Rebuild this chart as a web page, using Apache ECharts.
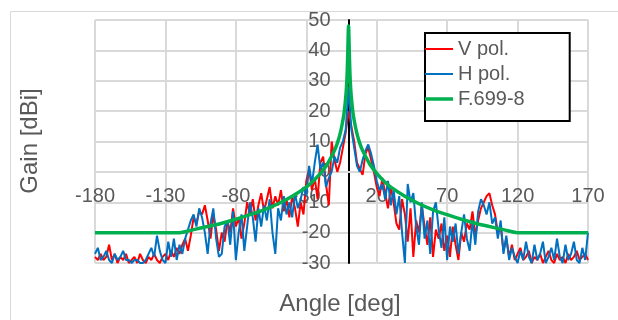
<!DOCTYPE html>
<html lang="en">

<head>
    <meta charset="UTF-8">
    <title>Gain pattern</title>
    <style>
        body {
            margin: 0;
            background: #fff;
        }

        #main {
            width: 618px;
            height: 320px;
        }
    </style>
    <script src="https://cdnjs.cloudflare.com/ajax/libs/echarts/6.0.0/echarts.min.js"></script>
</head>

<body>
    <div id="main"></div>
    <script>
        // measured angles: -180 .. 170 deg, 2 deg step
        const angles = [];
        for (let a = -180; a <= 170; a += 2) angles.push(a);

        const vPol = [
            -28, -29, -27, -29, -28, -24, -29, -27, -30, -28,
            -29, -27, -30, -29, -28, -30, -27, -29, -30, -28,
            -29, -27, -29, -30, -28, -27, -29, -26, -28, -25,
            -27, -24, -22, -26, -21, -15, -17, -13, -14, -11,
            -16, -22, -14, -19, -26, -20, -23, -16, -20, -12,
            -18, -15, -22, -17, -10, -14, -9, -16, -11, -7,
            -13, -9, -5, -12, -8, -11, -6, -13, -9, -15,
            -8, -12, -18, -10, -14, -3, 1, -6, -2, -9,
            3, 5, -4, -11, 10, 4, 0, 3, 8, 13,
            20, 15, 10, 3, 1, -1, 6, 8, 4, 0,
            -5, -8, -2, -7, -12, -5, -10, -17, -19, -9,
            -14, -23, -12, -28, -16, -20, -11, -18, -24, -15,
            -28, -19, -22, -17, -26, -21, -28, -18, -24, -29,
            -20, -23, -17, -19, -13, -21, -16, -12, -10, -8,
            -7, -11, -14, -20, -18, -26, -22, -28, -24, -29,
            -27, -25, -29, -28, -26, -30, -28, -29, -27, -30,
            -28, -26, -29, -30, -27, -29, -28, -30, -27, -29,
            -28, -26, -29, -28, -27, -29
        ];

        const hPol = [
            -27, -25, -29, -28, -26, -29, -30, -27, -29, -28,
            -26, -29, -29, -30, -29, -29, -30, -30, -29, -27,
            -25, -28, -21, -26, -29, -30, -23, -28, -22, -29,
            -24, -27, -22, -19, -16, -14, -18, -12, -15, -20,
            -27, -17, -12, -22, -28, -27, -18, -16, -24, -13,
            -29, -20, -14, -26, -18, -10, -15, -23, -12, -18,
            -11, -16, -9, -20, -27, -12, -16, -8, -14, -10,
            -15, -7, -12, -9, -5, -8, 2, -4, 3, 9,
            1, 3, -5, -2, 0, 5, 3, 8, 10, 14,
            28, 14, 8, 2, 0, 4, 7, 9, 6, 2,
            -3, -6, -4, -9, -3, -11, -6, -14, -8, -20,
            -30, -4, -10, -7, -18, -24, -10, -22, -16, -27,
            -13, -10, -19, -25, -15, -29, -18, -23, -17, -27,
            -20, -14, -22, -26, -16, -24, -13, -9, -11, -14,
            -10, -17, -15, -22, -16, -27, -21, -29, -25, -28,
            -30, -26, -29, -23, -28, -30, -24, -29, -27, -23,
            -30, -28, -25, -29, -22, -28, -30, -24, -29, -27,
            -23, -29, -30, -25, -29, -20
        ];

        // F.699-8 reference envelope
        const refAngles = [-180, -120, -110, -100, -90, -80, -70, -60, -50, -40, -30, -25, -20, -15, -10, -8, -6, -4, -3, -2, -1.5, -1, -0.5,
            0, 0.5, 1, 1.5, 2, 3, 4, 6, 8, 10, 15, 20, 25, 30, 40, 50, 60, 70, 80, 90, 100, 110, 120, 170];
        const refGain = [-20, -20, -19, -18, -16.9, -15.6, -14.1, -12.5, -10.5, -8, -5, -3, -0.5, 2.6, 7, 9.4, 12.5, 17, 20, 24.5, 27.6, 32, 40,
            48, 40, 32, 27.6, 24.5, 20, 17, 12.5, 9.4, 7, 2.6, -0.5, -3, -5, -8, -10.5, -12.5, -14.1, -15.6, -16.9, -18, -19, -20, -20];

        const xMin = -180, xMax = 170, yMin = -30, yMax = 50;

        const chart = echarts.init(document.getElementById('main'));

        const pairs = (xs, ys) => xs.map((x, i) => [x, ys[i]]);
        const txt = '#595959';
        const font = 'Liberation Sans';

        // grid box, axes cross at (0, 0) inside it
        const G = { left: 95, right: 30, top: 20, bottom: 57 };
        const gw = 618 - G.left - G.right;
        const gh = 320 - G.top - G.bottom;
        const xOffset = -gh * (0 - yMin) / (yMax - yMin);
        const yOffset = -gw * (0 - xMin) / (xMax - xMin);

        // legend line icons (thin / thick)
        const thinLine = 'path://M0,0L0.01,0Z M0,5L28,5L28,7L0,7Z M0,12L0.01,12Z';
        const thickLine = 'path://M0,0L0.01,0Z M0,4.25L28,4.25L28,7.75L0,7.75Z M0,12L0.01,12Z';

        const option = {
            animation: false,
            grid: G,
            legend: {
                left: 425,
                top: 33,
                orient: 'vertical',
                padding: [6, 45, 12, 0],
                itemWidth: 28,
                itemHeight: 12,
                itemGap: 5,
                borderColor: '#000',
                borderWidth: 2,
                backgroundColor: '#fff',
                textStyle: { fontSize: 20, color: txt, fontFamily: font },
                data: [
                    { name: 'V pol.', icon: thinLine },
                    { name: 'H pol.', icon: thinLine },
                    { name: 'F.699-8', icon: thickLine }
                ]
            },
            xAxis: {
                type: 'value',
                min: xMin,
                max: xMax,
                interval: 50,
                offset: xOffset,
                axisLine: { onZero: false, lineStyle: { color: '#d9d9d9', width: 2 } },
                axisTick: { show: false },
                axisLabel: { margin: 15, fontSize: 20, color: txt, fontFamily: font },
                splitLine: { lineStyle: { color: '#d9d9d9', width: 2 } }
            },
            yAxis: {
                type: 'value',
                min: yMin,
                max: yMax,
                interval: 10,
                offset: yOffset,
                axisLine: { show: true, onZero: false, lineStyle: { color: '#000', width: 2 } },
                axisTick: { show: false },
                axisLabel: { margin: 18, fontSize: 20, color: txt, fontFamily: font },
                splitLine: { lineStyle: { color: '#d9d9d9', width: 2 } }
            },
            graphic: [
                {
                    type: 'rect', left: 8, top: 9, silent: true,
                    shape: { width: 640, height: 340 },
                    style: { fill: 'none', stroke: '#d9d9d9', lineWidth: 1 }
                },
                {
                    type: 'text', x: 340, y: 304, silent: true,
                    style: { text: 'Angle [deg]', fontSize: 24, fill: txt, fontFamily: font, align: 'center', verticalAlign: 'middle' },
                },
                {
                    type: 'text', x: 30, y: 141, rotation: Math.PI / 2, silent: true,
                    style: { text: 'Gain [dBi]', fontSize: 24, fill: txt, fontFamily: font, align: 'center', verticalAlign: 'middle' }
                }
            ],
            series: [
                {
                    name: 'V pol.', type: 'line', symbol: 'none',
                    lineStyle: { color: '#ff0000', width: 2 }, itemStyle: { color: '#ff0000' },
                    data: pairs(angles, vPol)
                },
                {
                    name: 'H pol.', type: 'line', symbol: 'none',
                    lineStyle: { color: '#0070c0', width: 2 }, itemStyle: { color: '#0070c0' },
                    data: pairs(angles, hPol)
                },
                {
                    name: 'F.699-8', type: 'line', symbol: 'none', smooth: 0.3,
                    lineStyle: { color: '#00b050', width: 3.5 }, itemStyle: { color: '#00b050' },
                    data: pairs(refAngles, refGain)
                }
            ]
        };

        chart.setOption(option);
    </script>
</body>

</html>
